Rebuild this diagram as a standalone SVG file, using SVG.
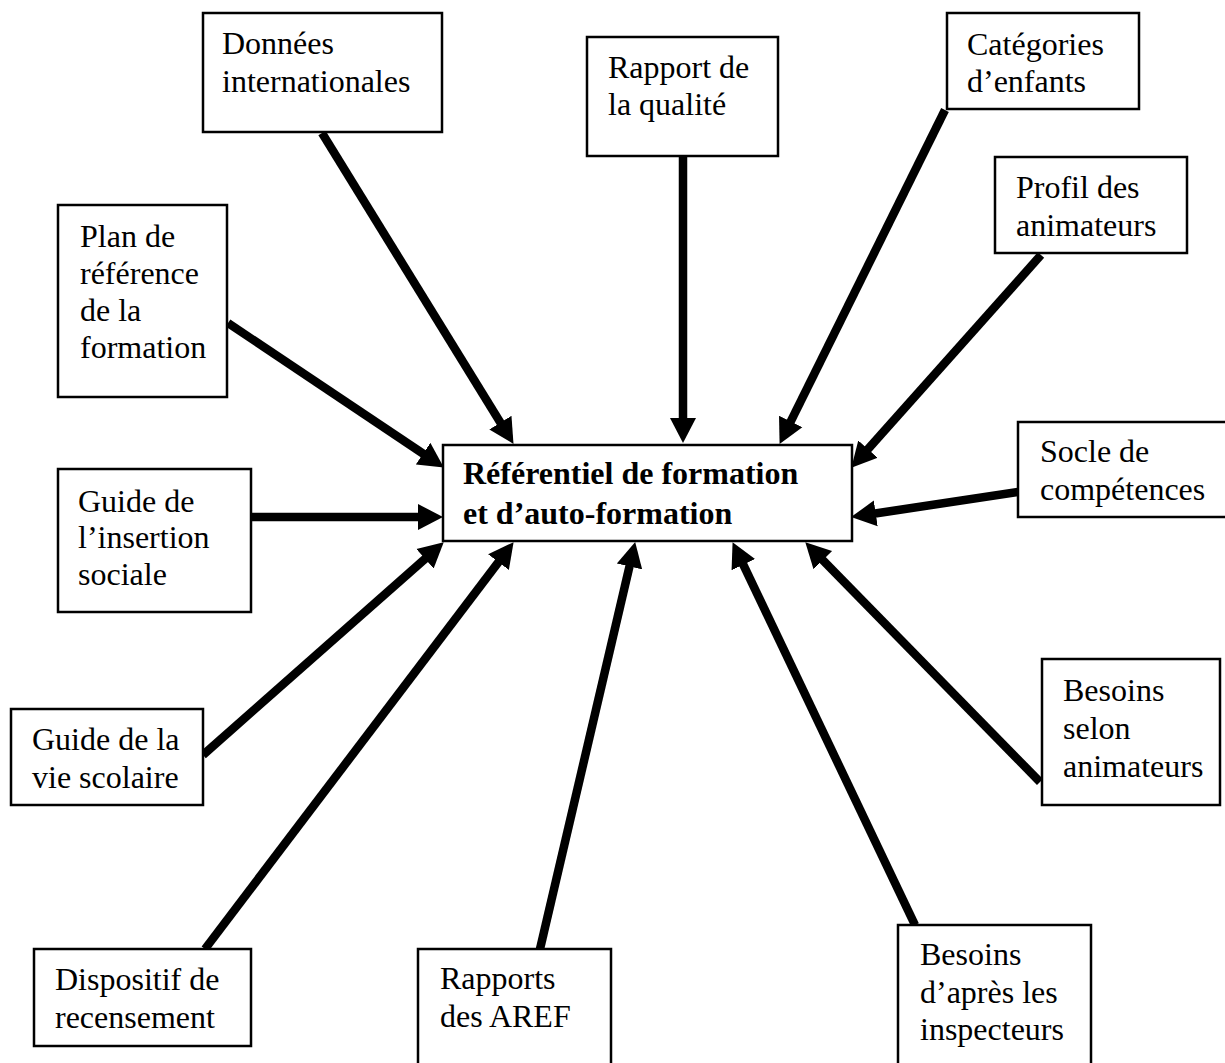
<svg xmlns="http://www.w3.org/2000/svg" width="1225" height="1063" viewBox="0 0 1225 1063">
<style>
.box{fill:#fff;stroke:#000;stroke-width:2.5}
.t{font-family:"Liberation Serif","Times New Roman",serif;font-size:32px;fill:#000}
.b{font-weight:bold}
.arr{stroke:#000;stroke-width:8.5;fill:none;marker-end:url(#ah)}
</style>
<defs>
<marker id="ah" markerUnits="userSpaceOnUse" markerWidth="28" markerHeight="28" viewBox="0 -14 28 28" refX="4" refY="0" orient="auto">
<path d="M0,-13 L25,0 L0,13 z" fill="#000"/>
</marker>
</defs>
<rect width="1225" height="1063" fill="#fff"/>
<g id="connectors">
<line class="arr" x1="322" y1="133" x2="502.5" y2="426"/>
<line class="arr" x1="683" y1="157" x2="683" y2="422"/>
<line class="arr" x1="945" y1="110" x2="788.9" y2="425.1"/>
<line class="arr" x1="1041" y1="255" x2="865.3" y2="452.1"/>
<line class="arr" x1="1018" y1="492" x2="871.8" y2="514"/>
<line class="arr" x1="1040" y1="782" x2="820" y2="557.3"/>
<line class="arr" x1="915" y1="925" x2="741.6" y2="561.1"/>
<line class="arr" x1="540" y1="949" x2="630.4" y2="562.5"/>
<line class="arr" x1="205" y1="949" x2="500.9" y2="558.9"/>
<line class="arr" x1="203" y1="755" x2="428" y2="556.2"/>
<line class="arr" x1="251" y1="517" x2="422" y2="517"/>
<line class="arr" x1="228" y1="323" x2="426.4" y2="455.9"/>
</g>
<g id="center">
<rect class="box" x="443" y="445" width="409" height="96"/>
<text class="t b" x="463" y="484">Référentiel de formation</text>
<text class="t b" x="463" y="524">et d’auto-formation</text>
</g>
<g id="donnees">
<rect class="box" x="203" y="13" width="239" height="119"/>
<text class="t" x="222" y="54">Données</text>
<text class="t" x="222" y="92">internationales</text>
</g>
<g id="rapport-qualite">
<rect class="box" x="587" y="37" width="191" height="119"/>
<text class="t" x="608" y="78">Rapport de</text>
<text class="t" x="608" y="115">la qualité</text>
</g>
<g id="categories">
<rect class="box" x="947" y="13" width="192" height="96"/>
<text class="t" x="967" y="55">Catégories</text>
<text class="t" x="967" y="92">d’enfants</text>
</g>
<g id="profil">
<rect class="box" x="995" y="157" width="192" height="96"/>
<text class="t" x="1016" y="198">Profil des</text>
<text class="t" x="1016" y="236">animateurs</text>
</g>
<g id="socle">
<rect class="box" x="1018" y="422" width="212" height="95"/>
<text class="t" x="1040" y="462">Socle de</text>
<text class="t" x="1040" y="500">compétences</text>
</g>
<g id="besoins-selon">
<rect class="box" x="1042" y="659" width="178" height="146"/>
<text class="t" x="1063" y="701">Besoins</text>
<text class="t" x="1063" y="739">selon</text>
<text class="t" x="1063" y="777">animateurs</text>
</g>
<g id="besoins-apres">
<rect class="box" x="898" y="925" width="193" height="150"/>
<text class="t" x="920" y="965">Besoins</text>
<text class="t" x="920" y="1003">d’après les</text>
<text class="t" x="920" y="1040">inspecteurs</text>
</g>
<g id="rapports-aref">
<rect class="box" x="418" y="949" width="193" height="126"/>
<text class="t" x="440" y="989">Rapports</text>
<text class="t" x="440" y="1027">des AREF</text>
</g>
<g id="dispositif">
<rect class="box" x="34" y="949" width="217" height="97"/>
<text class="t" x="55" y="990">Dispositif de</text>
<text class="t" x="55" y="1028">recensement</text>
</g>
<g id="guide-vie">
<rect class="box" x="11" y="709" width="192" height="96"/>
<text class="t" x="32" y="750">Guide de la</text>
<text class="t" x="32" y="788">vie scolaire</text>
</g>
<g id="guide-insertion">
<rect class="box" x="58" y="469" width="193" height="143"/>
<text class="t" x="78" y="512">Guide de</text>
<text class="t" x="78" y="548">l’insertion</text>
<text class="t" x="78" y="585">sociale</text>
</g>
<g id="plan">
<rect class="box" x="58" y="205" width="169" height="192"/>
<text class="t" x="80" y="247">Plan de</text>
<text class="t" x="80" y="284">référence</text>
<text class="t" x="80" y="321">de la</text>
<text class="t" x="80" y="358">formation</text>
</g>
</svg>
